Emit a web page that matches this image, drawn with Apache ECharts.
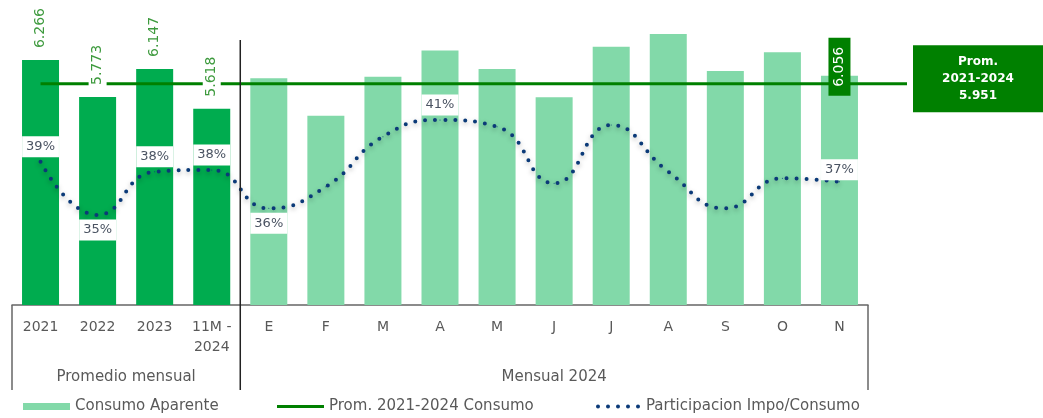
<!DOCTYPE html>
<html>
<head>
<meta charset="utf-8">
<script src="https://cdn.jsdelivr.net/npm/echarts@6/dist/echarts.min.js"></script>
<style>
  html, body { margin: 0; padding: 0; background: #fff; }
  #main { width: 1043px; height: 418px; }
</style>
</head>
<body>
<div id="main"></div>
<script>
// categorias: 4 promedios anuales + meses 2024
var categories = ['2021', '2022', '2023', '11M -\n2024', 'E', 'F', 'M', 'A', 'M', 'J', 'J', 'A', 'S', 'O', 'N'];
// consumo aparente (miles)
var consumo = [6266, 5773, 6147, 5618, 6022, 5523, 6043, 6395, 6146, 5769, 6443, 6613, 6119, 6369, 6056];
// participacion impo / consumo (%)
var participacion = [38.6, 35.4, 38.0, 38.1, 35.8, 37.1, 40.1, 41.1, 40.7, 37.3, 40.8, 38.0, 35.8, 37.6, 37.4];
// promedio 2021-2024
var promedio = 5951;
var groupLabels = ['Promedio mensual', 'Mensual 2024'];

var FONT = 'DejaVu Sans';
var GRID_L = 12, GRID_R = 868, GRID_TOP = 5, AXIS_Y = 305;
var cell = (GRID_R - GRID_L) / categories.length;
var sepX = GRID_L + cell * 4; // separa promedios de meses

function fmt(v) { return (v / 1000).toFixed(3); }

// barras: las 4 primeras en verde oscuro
var barData = consumo.map(function (v, i) {
    return i < 4 ? { value: v, itemStyle: { color: '#00ac4f' } } : v;
});

// etiquetas rotadas solo en algunas barras
var barLabelData = consumo.map(function (v, i) {
    if (i < 4) {
        return { value: v, label: { show: true } };
    }
    if (i === consumo.length - 1) {
        return {
            value: v,
            label: {
                show: true, position: 'top', distance: 0, align: 'center', verticalAlign: 'middle',
                offset: [9, 0], color: '#fff', backgroundColor: '#008000', padding: [4, 9, 4, 9]
            }
        };
    }
    return { value: v, label: { show: false } };
});

// etiquetas de % solo en algunos puntos
var pctLabelPos = { 0: 'top', 1: 'bottom', 2: 'top', 3: 'top', 4: 'bottom', 7: 'top', 14: 'inside' };
var pctData = participacion.map(function (v, i) {
    var pos = pctLabelPos[i];
    if (!pos) return v;
    var lab = { show: true, position: pos };
    if (pos === 'inside') lab.offset = [0, -12];
    return { value: v, label: lab };
});

var dotsIcon = 'path://M0,2a2,2 0 1,0 4,0a2,2 0 1,0 -4,0z' +
    'M10,2a2,2 0 1,0 4,0a2,2 0 1,0 -4,0z' +
    'M20,2a2,2 0 1,0 4,0a2,2 0 1,0 -4,0z' +
    'M30,2a2,2 0 1,0 4,0a2,2 0 1,0 -4,0z' +
    'M40,2a2,2 0 1,0 4,0a2,2 0 1,0 -4,0z';

var legendText = { fontSize: 15, color: '#595959', fontFamily: FONT };

var option = {
    animation: false,
    textStyle: { fontFamily: FONT },
    grid: [
        { left: GRID_L, right: 1043 - GRID_R, top: GRID_TOP, height: AXIS_Y - GRID_TOP },
        { left: GRID_L + cell / 2, right: 136, top: GRID_TOP, height: AXIS_Y - GRID_TOP }
    ],
    legend: [
        {
            top: 394, left: 18, itemWidth: 47, itemHeight: 7, itemGap: 0,
            textStyle: legendText,
            data: [{ name: 'Consumo Aparente', icon: 'rect' }]
        },
        {
            top: 394, left: 272, itemWidth: 47, itemHeight: 3, itemGap: 0,
            textStyle: legendText,
            data: [{ name: 'Prom. 2021-2024 Consumo', icon: 'rect' }]
        },
        {
            top: 394, left: 591, itemWidth: 46, itemHeight: 4, itemGap: 0,
            textStyle: legendText,
            data: [{ name: 'Participacion Impo/Consumo', icon: dotsIcon }]
        }
    ],
    xAxis: [
        {
            type: 'category',
            gridIndex: 0,
            data: categories,
            axisLine: { show: true, lineStyle: { color: '#666', width: 1.5 } },
            axisTick: { show: false },
            axisLabel: { interval: 0, margin: 12, fontSize: 14, lineHeight: 20, color: '#595959', verticalAlign: 'top' }
        },
        { type: 'value', gridIndex: 1, min: 0, max: 1, show: false }
    ],
    yAxis: [
        { type: 'value', gridIndex: 0, min: 3000, max: 7000, show: false, splitLine: { show: false } },
        { type: 'value', gridIndex: 0, min: 30, max: 48, show: false, splitLine: { show: false } },
        { type: 'value', gridIndex: 1, min: 3000, max: 7000, show: false, splitLine: { show: false } }
    ],
    series: [
        {
            name: 'Consumo Aparente',
            type: 'bar',
            xAxisIndex: 0,
            yAxisIndex: 0,
            barWidth: 37,
            z: 2,
            itemStyle: { color: '#82d9a9' },
            data: barData
        },
        {
            name: 'Prom. 2021-2024 Consumo',
            type: 'line',
            xAxisIndex: 1,
            yAxisIndex: 2,
            symbol: 'none',
            z: 3,
            lineStyle: { color: '#008000', width: 3 },
            itemStyle: { color: '#008000' },
            data: [[0, promedio], [1, promedio]],
            endLabel: {
                show: true,
                distance: 6,
                offset: [0, -5],
                backgroundColor: '#008000',
                padding: [8, 34, 8, 34],
                formatter: function () { return '{a|Prom.}\n{a|2021-2024}\n{a|' + fmt(promedio) + '}'; },
                rich: {
                    a: { width: 62, align: 'center', color: '#fff', fontSize: 12, fontWeight: 'bold', lineHeight: 17, fontFamily: FONT }
                }
            }
        },
        {
            name: 'Participacion Impo/Consumo',
            type: 'line',
            xAxisIndex: 0,
            yAxisIndex: 1,
            smooth: 0.5,
            symbol: 'circle',
            symbolSize: 1,
            showSymbol: true,
            showAllSymbol: true,
            z: 4,
            lineStyle: {
                color: '#0b3a78', width: 4, type: [0, 10], cap: 'round',
                shadowBlur: 5, shadowColor: 'rgba(0,0,0,0.35)', shadowOffsetY: 2
            },
            itemStyle: { color: '#0b3a78' },
            label: {
                show: false,
                fontSize: 13,
                color: '#4a5362',
                backgroundColor: '#fff',
                padding: [4, 4],
                distance: 4,
                formatter: function (p) { return Math.round(p.value) + '%'; }
            },
            data: pctData
        },
        {
            // solo para las etiquetas de valor
            name: 'valores',
            type: 'bar',
            xAxisIndex: 0,
            yAxisIndex: 0,
            barWidth: 37,
            barGap: '-100%',
            z: 5,
            silent: true,
            itemStyle: { color: 'rgba(0,0,0,0)' },
            label: {
                position: 'top',
                rotate: 90,
                align: 'left',
                verticalAlign: 'middle',
                distance: 11,
                fontSize: 14,
                color: '#3d9a3d',
                backgroundColor: '#fff',
                padding: [2, 1, 2, 1],
                formatter: function (p) { return fmt(p.value); }
            },
            data: barLabelData
        }
    ],
    graphic: [
        { type: 'line', shape: { x1: GRID_L, y1: AXIS_Y, x2: GRID_L, y2: 390 }, style: { stroke: '#666', lineWidth: 1.5 } },
        { type: 'line', shape: { x1: GRID_R, y1: AXIS_Y, x2: GRID_R, y2: 390 }, style: { stroke: '#666', lineWidth: 1.5 } },
        { type: 'line', z: 10, shape: { x1: sepX, y1: 40, x2: sepX, y2: 390 }, style: { stroke: '#222', lineWidth: 1.5 } },
        {
            type: 'text', x: (GRID_L + sepX) / 2, y: 377,
            style: { text: groupLabels[0], fill: '#595959', font: '15px ' + FONT, textAlign: 'center', textVerticalAlign: 'middle' }
        },
        {
            type: 'text', x: (sepX + GRID_R) / 2, y: 377,
            style: { text: groupLabels[1], fill: '#595959', font: '15px ' + FONT, textAlign: 'center', textVerticalAlign: 'middle' }
        }
    ]
};

var chart = echarts.init(document.getElementById('main'));
chart.setOption(option);
</script>
</body>
</html>
